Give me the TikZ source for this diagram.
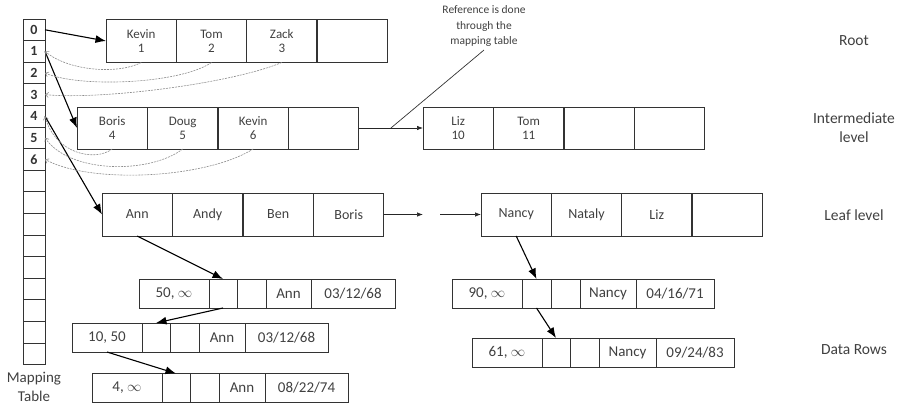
\documentclass[tikz,border=0pt]{standalone}
\usepackage{fontspec}
\setmainfont{Carlito}
\usetikzlibrary{positioning,arrows.meta}

\begin{document}
\begin{tikzpicture}[x=1pt, y=-1pt,
mapcell/.style={draw=black!80, line width=0.9pt, inner sep=0pt, outer sep=0pt, minimum width=22pt, minimum height=21.6pt, text=black!80, font=\fontsize{14}{14}\selectfont\bfseries},
keycell/.style={draw=black!80, line width=0.9pt, inner sep=0pt, outer sep=0pt, minimum width=70.4pt, minimum height=43pt, text=black!75, align=center, font=\fontsize{13}{14}\selectfont},
rowcell/.style={draw=black!80, line width=0.9pt, inner sep=0pt, outer sep=0pt, minimum height=29pt, text=black!75, font=\fontsize{15}{15}\selectfont},
levellabel/.style={text=black!75, align=center, font=\fontsize{15.5}{19}\selectfont},
arr/.style={-{Latex[length=10.5pt,width=8pt]}, line width=1.1pt, black},
link/.style={-{Latex[length=6pt,width=4.5pt]}, line width=0.7pt, black!85},
ref/.style={-{Straight Barb[length=3pt,width=5pt]}, line width=0.6pt, black!45, dash pattern=on 2pt off 1pt},
]
\useasboundingbox (0,0) rectangle (901,406);

% mapping table
\foreach \i in {0,...,6}
  \node[mapcell] (m\i) at (34,{29.8+21.6*\i}) {\i};
\foreach \i in {7,...,15}
  \node[mapcell] (m\i) at (34,{29.8+21.6*\i}) {};
\node[levellabel, font=\fontsize{15}{19}\selectfont] (maplbl) at (34,387) {Mapping\\Table};

% root and intermediate pages
\foreach \txt [count=\i] in {{Kevin\\1},{Tom\\2},{Zack\\3},{}}
  \node[keycell, anchor=west] (r\i) at ({106+70.3*(\i-1)},41) {\txt};
\foreach \txt [count=\i] in {{Boris\\4},{Doug\\5},{Kevin\\6},{}}
  \node[keycell, minimum height=42pt, anchor=west] (i\i) at ({77+70.5*(\i-1)},128) {\txt};
\foreach \txt [count=\i] in {{Liz\\10},{Tom\\11},{},{}}
  \node[keycell, minimum height=42pt, anchor=west] (j\i) at ({423+70.5*(\i-1)},128) {\txt};

% leaf pages
\foreach \txt [count=\i] in {Ann,Andy,Ben,Boris}
  \node[keycell, font=\fontsize{14}{14}\selectfont, anchor=west] (l\i) at ({102+70.5*(\i-1)},214.5) {\txt};
\foreach \txt [count=\i] in {Nancy,Nataly,Liz,{}}
  \node[keycell, font=\fontsize{14}{14}\selectfont, anchor=west] (k\i) at ({481+70.3*(\i-1)},214.5) {\txt};

% data rows
\node[rowcell, minimum width=70pt, anchor=west] (a1) at (139,293.5) {50, $\infty$};
\node[rowcell, minimum width=28pt, right=0pt of a1] (a2) {};
\node[rowcell, minimum width=29pt, right=0pt of a2] (a3) {};
\node[rowcell, minimum width=45pt, right=0pt of a3] (a4) {Ann};
\node[rowcell, minimum width=84pt, right=0pt of a4] (a5) {03/12/68};

\node[rowcell, minimum width=70pt, anchor=west] (b1) at (72,337.5) {10, 50};
\node[rowcell, minimum width=28pt, right=0pt of b1] (b2) {};
\node[rowcell, minimum width=29pt, right=0pt of b2] (b3) {};
\node[rowcell, minimum width=46pt, right=0pt of b3] (b4) {Ann};
\node[rowcell, minimum width=83pt, right=0pt of b4] (b5) {03/12/68};

\node[rowcell, minimum width=70pt, anchor=west] (c1) at (92,388) {4, $\infty$};
\node[rowcell, minimum width=28pt, right=0pt of c1] (c2) {};
\node[rowcell, minimum width=29pt, right=0pt of c2] (c3) {};
\node[rowcell, minimum width=46pt, right=0pt of c3] (c4) {Ann};
\node[rowcell, minimum width=83pt, right=0pt of c4] (c5) {08/22/74};

\node[rowcell, minimum width=70pt, anchor=west] (d1) at (452,293.5) {90, $\infty$};
\node[rowcell, minimum width=29pt, right=0pt of d1] (d2) {};
\node[rowcell, minimum width=29pt, right=0pt of d2] (d3) {};
\node[rowcell, minimum width=56pt, right=0pt of d3] (d4) {Nancy};
\node[rowcell, minimum width=78pt, right=0pt of d4] (d5) {04/16/71};

\node[rowcell, minimum width=70pt, anchor=west] (e1) at (472,352.5) {61, $\infty$};
\node[rowcell, minimum width=28pt, right=0pt of e1] (e2) {};
\node[rowcell, minimum width=29pt, right=0pt of e2] (e3) {};
\node[rowcell, minimum width=57pt, right=0pt of e3] (e4) {Nancy};
\node[rowcell, minimum width=78pt, right=0pt of e4] (e5) {09/24/83};

% level labels
\node[levellabel] (rootlbl) at (854,41) {Root};
\node[levellabel] (intlbl) at (854,127.5) {Intermediate\\level};
\node[levellabel] (leaflbl) at (854,215) {Leaf level};
\node[levellabel] (rowlbl) at (854,350) {Data Rows};

% mapping table pointers
\draw[arr] (m0.east) -- (r1.west);
\draw[arr] (m1.east) -- (i1.west);
\draw[arr] (m4.east) -- (l1.west);
\draw[arr] (l1.south) -- (a2.north);
\draw[arr] (a2.south) -- (b2.north);
\draw[arr] (b1.south) -- (c2.north);
\draw[arr] (k1.south) -- (d2.north);
\draw[arr] (d2.south) -- (e2.north);

% references back to the table
\draw[ref] (r1.south) .. controls (120,74) and (70,72) .. (m1.east);
\draw[ref] (r2.south) .. controls (180,84) and (80,88) .. (m2.east);
\draw[ref] (r3.south) .. controls (230,84) and (100,100) .. (m3.east);
\draw[ref] (i1.south) .. controls (95,162) and (55,154) .. (m4.east);
\draw[ref] (i2.south) .. controls (150,174) and (70,174) .. (m5.east);
\draw[ref] (i3.south) .. controls (205,179) and (90,184) .. (m6.east);

% sibling links
\draw[link] (i4.east) -- coordinate[pos=0.5] (refpt) (j1.west);
\coordinate (gapl) at (423,214.5);
\coordinate (gapr) at (440,214.5);
\draw[link] (l4.east) -- (gapl);
\draw[link] (gapr) -- (k1.west);

% note
\node[text=black!75, align=center, font=\fontsize{11.5}{15.5}\selectfont] (note) at (484,26) {Reference is done\\through the\\mapping table};
\draw[line width=0.7pt, black!80] (note.south) -- (refpt);
\end{tikzpicture}
\end{document}
